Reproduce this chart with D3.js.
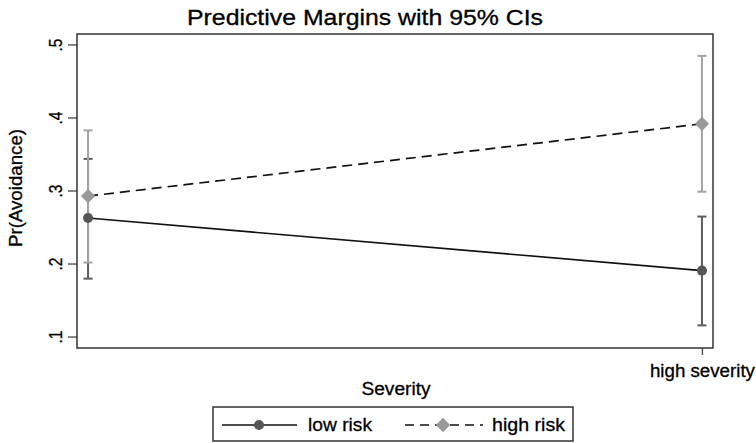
<!DOCTYPE html>
<html>
<head>
<meta charset="utf-8">
<script src="https://cdn.jsdelivr.net/npm/d3@7"></script>
<style>
  html, body { margin: 0; padding: 0; background: #fff; }
  svg { display: block; font-family: "Liberation Sans", Arial, sans-serif; }
  svg text { stroke: #000; stroke-width: 0.3px; }
</style>
</head>
<body>
<svg id="chart" width="756" height="443"></svg>
<script>
// ---- data ----
const categories = ["low severity", "high severity"];
const xTickLabels = ["high severity"];
const seriesNames = ["low risk", "high risk"];
const lowRisk = [0.263, 0.191];
const lowRiskLo = [0.180, 0.116];
const lowRiskHi = [0.344, 0.265];
const highRisk = [0.293, 0.392];
const highRiskLo = [0.202, 0.299];
const highRiskHi = [0.383, 0.485];
const yTicks = [0.1, 0.2, 0.3, 0.4, 0.5];

const svg = d3.select("#chart");
const frame = { left: 77, right: 713, top: 34, bottom: 348 };

const x = d3.scalePoint().domain(categories)
  .range([frame.left, frame.right]).padding(0.018);
const y = d3.scaleLinear().domain([0.085, 0.515]).range([frame.bottom, frame.top]);

const series = [
  { name: seriesNames[0], v: lowRisk, lo: lowRiskLo, hi: lowRiskHi,
    line: "#111", dash: null, mark: "#555", ci: "#5c5c5c", shape: "circle" },
  { name: seriesNames[1], v: highRisk, lo: highRiskLo, hi: highRiskHi,
    line: "#111", dash: "10,6", mark: "#999", ci: "#a3a3a3", shape: "diamond" }
];

// title
svg.append("text").attr("x", 365).attr("y", 25).attr("text-anchor", "middle")
  .attr("font-size", 21.5).attr("fill", "#000")
  .attr("textLength", 356).attr("lengthAdjust", "spacingAndGlyphs")
  .text("Predictive Margins with 95% CIs");

// y axis
const yAxis = d3.axisLeft(y).tickValues(yTicks).tickSize(9).tickPadding(6)
  .tickFormat(d => d3.format(".1f")(d).replace(/^0/, ""));
const gy = svg.append("g").attr("transform", `translate(${frame.left},0)`).call(yAxis);
gy.select(".domain").remove();
gy.selectAll(".tick").attr("transform", "translate(0,0)");
gy.selectAll(".tick line").attr("stroke", "#444").attr("stroke-width", 1.3)
  .each(function(d) { d3.select(this).attr("y1", y(d)).attr("y2", y(d)); });
gy.selectAll(".tick text")
  .attr("x", 0).attr("y", 0).attr("dy", 0)
  .attr("text-anchor", "middle")
  .attr("font-size", 19).attr("fill", "#000")
  .attr("textLength", 13).attr("lengthAdjust", "spacingAndGlyphs")
  .each(function(d) {
    d3.select(this).attr("transform", `translate(${62 - frame.left},${y(d)}) rotate(-90)`);
  });

// x axis (tick only for labelled category)
const xAxis = d3.axisBottom(x).tickValues(xTickLabels).tickSize(7).tickPadding(5);
const gx = svg.append("g").attr("transform", `translate(0,${frame.bottom})`).call(xAxis);
gx.select(".domain").remove();
gx.selectAll(".tick line").attr("stroke", "#444").attr("stroke-width", 1.3);
gx.selectAll(".tick text").attr("font-size", 18).attr("fill", "#000")
  .attr("dy", "0.95em")
  .attr("textLength", 105).attr("lengthAdjust", "spacingAndGlyphs");

// frame
svg.append("rect").attr("x", frame.left).attr("y", frame.top)
  .attr("width", frame.right - frame.left).attr("height", frame.bottom - frame.top)
  .attr("fill", "none").attr("stroke", "#333").attr("stroke-width", 1.5);

// axis titles
svg.append("text").attr("x", 396).attr("y", 395).attr("text-anchor", "middle")
  .attr("font-size", 17.5).attr("fill", "#000")
  .attr("textLength", 69).attr("lengthAdjust", "spacingAndGlyphs").text("Severity");
svg.append("text").attr("transform", "translate(22,188) rotate(-90)")
  .attr("text-anchor", "middle").attr("font-size", 17.5).attr("fill", "#000")
  .attr("textLength", 118).attr("lengthAdjust", "spacingAndGlyphs").text("Pr(Avoidance)");

// CIs
const capW = 4.5;
series.forEach(s => {
  const g = svg.append("g");
  categories.forEach((c, i) => {
    const cx = x(c);
    g.append("line").attr("x1", cx).attr("x2", cx).attr("y1", y(s.lo[i])).attr("y2", y(s.hi[i]))
      .attr("stroke", s.ci).attr("stroke-width", 2);
    [s.lo[i], s.hi[i]].forEach(v => {
      g.append("line").attr("x1", cx - capW).attr("x2", cx + capW).attr("y1", y(v)).attr("y2", y(v))
        .attr("stroke", s.ci).attr("stroke-width", 2);
    });
  });
});

// lines
const lineGen = d3.line().x((d, i) => x(categories[i])).y(d => y(d));
series.forEach(s => {
  svg.append("path").datum(s.v).attr("d", lineGen).attr("fill", "none")
    .attr("stroke", s.line).attr("stroke-width", 1.7)
    .attr("stroke-dasharray", s.dash);
});

// markers
function drawMarker(g, shape, cx, cy, color) {
  if (shape === "circle") {
    g.append("circle").attr("cx", cx).attr("cy", cy).attr("r", 5).attr("fill", color);
  } else {
    g.append("path").attr("d", d3.symbol(d3.symbolDiamond2, 130)())
      .attr("transform", `translate(${cx},${cy})`).attr("fill", color);
  }
}
series.forEach(s => {
  const g = svg.append("g");
  s.v.forEach((v, i) => drawMarker(g, s.shape, x(categories[i]), y(v), s.mark));
});

// legend
const leg = svg.append("g");
leg.append("rect").attr("x", 213).attr("y", 407).attr("width", 360).attr("height", 34)
  .attr("fill", "#fff").attr("stroke", "#333").attr("stroke-width", 1.5);
const legItems = [
  { s: series[0], x1: 222, x2: 297, mx: 259, tx: 308, tw: 64, dash: null },
  { s: series[1], x1: 405, x2: 483, mx: 443, tx: 492, tw: 73, dash: "9,6" }
];
legItems.forEach(it => {
  leg.append("line").attr("x1", it.x1).attr("x2", it.x2).attr("y1", 425).attr("y2", 425)
    .attr("stroke", it.s.line).attr("stroke-width", 1.4).attr("stroke-dasharray", it.dash);
  drawMarker(leg, it.s.shape, it.mx, 425, it.s.mark);
  leg.append("text").attr("x", it.tx).attr("y", 431).attr("font-size", 18.5).attr("fill", "#000")
    .attr("textLength", it.tw).attr("lengthAdjust", "spacingAndGlyphs").text(it.s.name);
});
</script>
</body>
</html>
